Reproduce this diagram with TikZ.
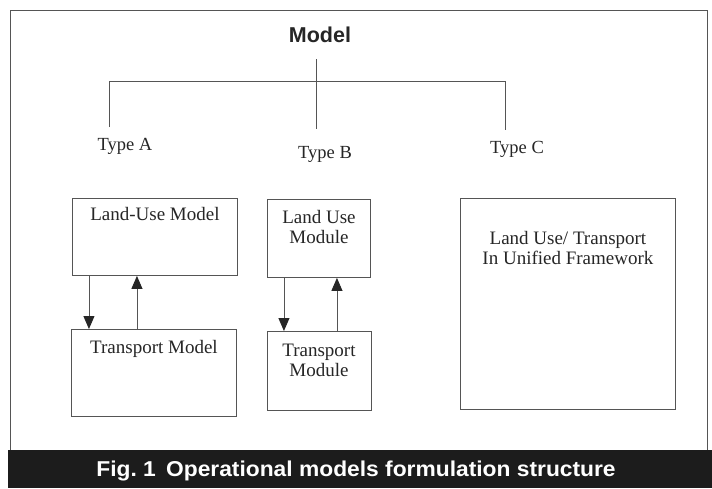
\documentclass[tikz,border=0pt]{standalone}
\usepackage{fontspec}
\setmainfont{Liberation Serif}
\newfontfamily\headfont{Liberation Sans}
\usetikzlibrary{arrows.meta,calc}
\definecolor{ink}{HTML}{262626}
\definecolor{rule}{HTML}{555555}
\definecolor{band}{HTML}{1C1C1C}
\begin{document}
\begin{tikzpicture}[x=1pt,y=-1pt,
  line/.style={draw=rule,line width=0.9pt},
  box/.style={line,rectangle,anchor=north west,inner sep=0pt},
  boxtext/.style={anchor=north,inner sep=0pt,align=center,text=ink,
    font=\fontsize{19}{20}\selectfont},
  typelabel/.style={anchor=base,inner sep=0pt,text=ink,
    font=\fontsize{18.5}{20}\selectfont},
  arr/.style={line,-{Triangle[length=13pt,width=11pt,color=black!85]}}]
\useasboundingbox (0,0) rectangle (712,488);
\fill[white] (0,0) rectangle (712,488);

% outer frame and caption band
\draw[line] (10,450) -- (10,10) -- (707,10) -- (707,450);
\fill[band] (8,450) rectangle (712,488);
\node[anchor=base,inner sep=0pt,text=white,
  font=\headfont\bfseries\fontsize{21.5}{22}\selectfont] (caption) at (356,476)
  {\scalebox{1.06}[1]{Fig.\ 1\hspace{0.45em}Operational models formulation structure}};

% title and tree
\node[anchor=base,inner sep=0pt,text=ink,
  font=\headfont\bfseries\fontsize{21.5}{22}\selectfont] (model) at (320,42) {Model};
\coordinate (stem) at (316,59);
\coordinate (stemEnd) at (316,129);
\coordinate (barL) at (109,81);
\coordinate (barR) at (505,81);
\coordinate (dropL) at (109,127);
\coordinate (dropR) at (505,130);
\draw[line] (stem) -- (stemEnd);
\draw[line] (dropL) -- (barL) -- (barR) -- (dropR);

\node[typelabel] (typeA) at (125,150) {Type A};
\node[typelabel] (typeB) at (325,158) {Type B};
\node[typelabel] (typeC) at (517,153) {Type C};

% type A: separate models
\node[box,minimum width=165pt,minimum height=77pt] (A1) at (72,198) {};
\node[box,minimum width=165pt,minimum height=87pt] (A2) at (71,329) {};
\node[boxtext] (A1t) at ($(A1.north)+(0,9)$) {Land-Use Model};
\node[boxtext] (A2t) at ($(A2.north)+(0,11)$) {Transport Model};
\draw[arr] ([xshift=-66pt]A1.south) -- ([xshift=-66pt]A1.south |- A2.north);
\draw[arr] ([xshift=-17pt]A2.north) -- ([xshift=-17pt]A2.north |- A1.south);

% type B: modules
\node[box,minimum width=103pt,minimum height=78pt] (B1) at (267,199) {};
\node[box,minimum width=104pt,minimum height=79pt] (B2) at (266.5,331) {};
\node[boxtext] (B1t) at ($(B1.north)+(0,11)$) {Land Use\\Module};
\node[boxtext] (B2t) at ($(B2.north)+(0,13)$) {Transport\\Module};
\draw[arr] ([xshift=-35pt]B1.south) -- ([xshift=-35pt]B1.south |- B2.north);
\draw[arr] ([xshift=18pt]B2.north) -- ([xshift=18pt]B2.north |- B1.south);

% type C: unified framework
\node[box,minimum width=215pt,minimum height=211pt] (C) at (460,198) {};
\node[boxtext] (Ct) at ($(C.north)+(0,33)$) {Land Use/ Transport\\In Unified Framework};
\end{tikzpicture}
\end{document}
